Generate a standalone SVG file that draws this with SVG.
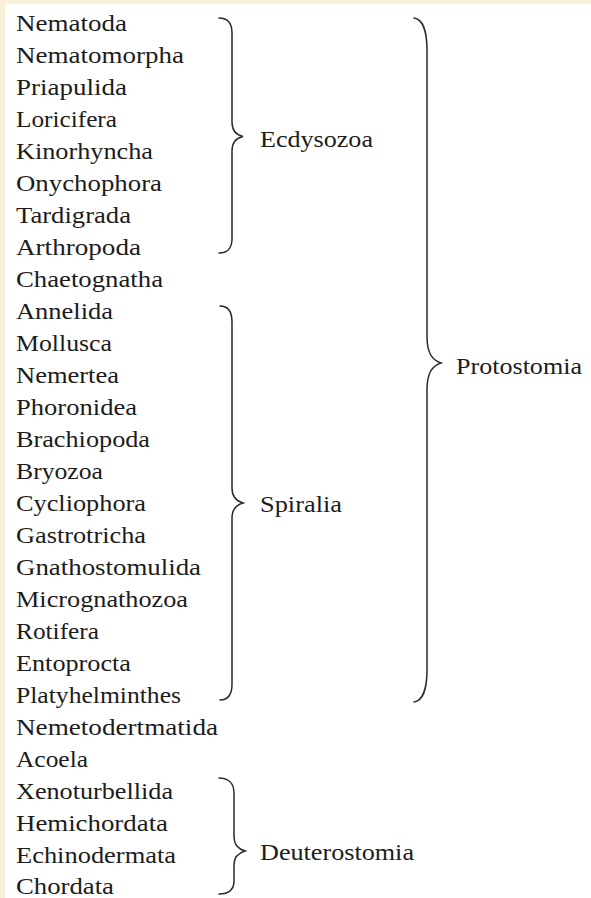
<svg xmlns="http://www.w3.org/2000/svg" width="591" height="898" viewBox="0 0 591 898">
<style>
text{font-family:"Liberation Serif","Times New Roman",serif;font-size:24px;fill:#1c1c1c}
.brace{fill:none;stroke:#2a2a2a;stroke-width:1.5;stroke-linecap:round}
</style>
<rect x="0" y="0" width="591" height="898" fill="#ffffff"/>
<rect x="0" y="0" width="591" height="4" fill="#fbf1d8"/>
<rect x="0" y="0" width="5" height="898" fill="#fbf1d8"/>
<g id="taxa">
<text x="16" y="31" textLength="111" lengthAdjust="spacingAndGlyphs">Nematoda</text>
<text x="16" y="63" textLength="168" lengthAdjust="spacingAndGlyphs">Nematomorpha</text>
<text x="16" y="95" textLength="111" lengthAdjust="spacingAndGlyphs">Priapulida</text>
<text x="16" y="127" textLength="101" lengthAdjust="spacingAndGlyphs">Loricifera</text>
<text x="16" y="159" textLength="137" lengthAdjust="spacingAndGlyphs">Kinorhyncha</text>
<text x="16" y="191" textLength="146" lengthAdjust="spacingAndGlyphs">Onychophora</text>
<text x="16" y="223" textLength="115" lengthAdjust="spacingAndGlyphs">Tardigrada</text>
<text x="16" y="255" textLength="125" lengthAdjust="spacingAndGlyphs">Arthropoda</text>
<text x="16" y="287" textLength="147" lengthAdjust="spacingAndGlyphs">Chaetognatha</text>
<text x="16" y="319" textLength="97" lengthAdjust="spacingAndGlyphs">Annelida</text>
<text x="16" y="351" textLength="96" lengthAdjust="spacingAndGlyphs">Mollusca</text>
<text x="16" y="383" textLength="103" lengthAdjust="spacingAndGlyphs">Nemertea</text>
<text x="16" y="415" textLength="121" lengthAdjust="spacingAndGlyphs">Phoronidea</text>
<text x="16" y="447" textLength="134" lengthAdjust="spacingAndGlyphs">Brachiopoda</text>
<text x="16" y="479" textLength="87" lengthAdjust="spacingAndGlyphs">Bryozoa</text>
<text x="16" y="511" textLength="130" lengthAdjust="spacingAndGlyphs">Cycliophora</text>
<text x="16" y="543" textLength="130" lengthAdjust="spacingAndGlyphs">Gastrotricha</text>
<text x="16" y="575" textLength="185" lengthAdjust="spacingAndGlyphs">Gnathostomulida</text>
<text x="16" y="607" textLength="172" lengthAdjust="spacingAndGlyphs">Micrognathozoa</text>
<text x="16" y="639" textLength="83" lengthAdjust="spacingAndGlyphs">Rotifera</text>
<text x="16" y="671" textLength="115" lengthAdjust="spacingAndGlyphs">Entoprocta</text>
<text x="16" y="703" textLength="165" lengthAdjust="spacingAndGlyphs">Platyhelminthes</text>
<text x="16" y="735" textLength="202" lengthAdjust="spacingAndGlyphs">Nemetodertmatida</text>
<text x="16" y="767" textLength="72" lengthAdjust="spacingAndGlyphs">Acoela</text>
<text x="16" y="799" textLength="157" lengthAdjust="spacingAndGlyphs">Xenoturbellida</text>
<text x="16" y="831" textLength="152" lengthAdjust="spacingAndGlyphs">Hemichordata</text>
<text x="16" y="863" textLength="160" lengthAdjust="spacingAndGlyphs">Echinodermata</text>
<text x="16" y="894" textLength="98" lengthAdjust="spacingAndGlyphs">Chordata</text>
</g>
<g id="connectors">
<path class="brace" d="M219,18 C227,18 232,23 232,33 L232,122 C232,131 236,135 243,136.5 C236,138 232,142 232,151 L232,239 C232,248 227,253 219,253"/>
<path class="brace" d="M220,306 C228,306 232,312 232,322 L232,488 C232,497 236,501 243,503 C236,505 232,509 232,518 L232,684 C232,694 228,700 220,700"/>
<path class="brace" d="M219,778 C228,778 234,783 234,793 L234,837 C234,845 238,849 245,851 C238,853 234,857 234,865 L234,881 C234,890 228,894 219,894"/>
<path class="brace" d="M414,18 C422,19 427,30 427,50 L427,336 C427,353 432,360 441,363 C432,366 427,373 427,390 L427,670 C427,690 422,701 414,702"/>
</g>
<g id="ecdysozoa"><text x="260" y="147" textLength="113" lengthAdjust="spacingAndGlyphs">Ecdysozoa</text></g>
<g id="spiralia"><text x="260" y="512" textLength="82" lengthAdjust="spacingAndGlyphs">Spiralia</text></g>
<g id="deuterostomia"><text x="260" y="860" textLength="154" lengthAdjust="spacingAndGlyphs">Deuterostomia</text></g>
<g id="protostomia"><text x="456" y="374" textLength="126" lengthAdjust="spacingAndGlyphs">Protostomia</text></g>
</svg>
